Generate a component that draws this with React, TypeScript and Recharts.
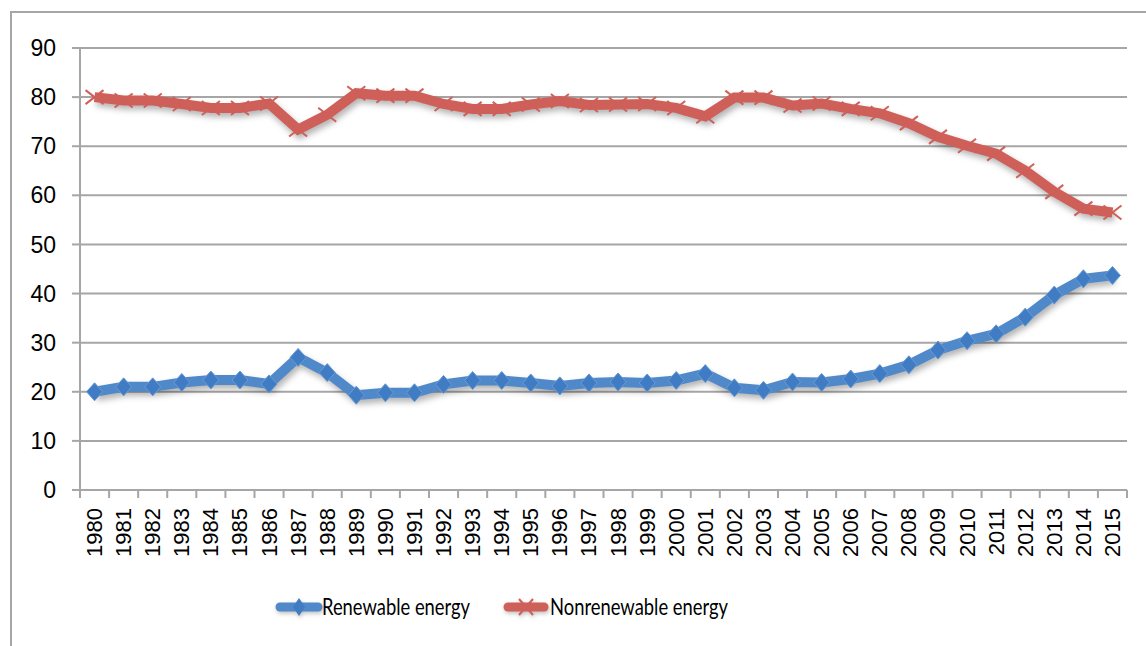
import React from "react"
import { LineChart, Line, XAxis, YAxis, CartesianGrid } from "recharts"

const years = [
  "1980", "1981", "1982", "1983", "1984", "1985", "1986", "1987", "1988", "1989",
  "1990", "1991", "1992", "1993", "1994", "1995", "1996", "1997", "1998", "1999",
  "2000", "2001", "2002", "2003", "2004", "2005", "2006", "2007", "2008", "2009",
  "2010", "2011", "2012", "2013", "2014", "2015",
]

const renewable = [
  20.0, 21.0, 21.0, 21.9, 22.4, 22.4, 21.6, 27.0, 23.9, 19.3,
  19.8, 19.8, 21.5, 22.3, 22.3, 21.8, 21.2, 21.8, 22.0, 21.8,
  22.3, 23.7, 20.8, 20.3, 22.0, 21.9, 22.6, 23.7, 25.5, 28.5,
  30.4, 31.8, 35.2, 39.7, 43.0, 43.7,
]

const nonrenewable = [
  80.0, 79.3, 79.3, 78.6, 77.8, 77.8, 78.7, 73.4, 76.4, 80.8,
  80.3, 80.3, 78.6, 77.6, 77.6, 78.5, 79.2, 78.4, 78.5, 78.6,
  77.8, 76.1, 79.9, 79.9, 78.3, 78.7, 77.6, 76.7, 74.7, 71.9,
  70.1, 68.5, 65.0, 60.7, 57.3, 56.5,
]

const yTicks = [0, 10, 20, 30, 40, 50, 60, 70, 80, 90]

const data = years.map((year, i) => ({
  year,
  renewable: renewable[i],
  nonrenewable: nonrenewable[i],
}))

const BLUE = "#5089c9"
const BLUE_DARK = "#3f7cc3"
const RED = "#cf5f59"
const GRID = "#a6a6a6"
const BAND = (1127 - 80) / years.length
const TICK_FONT = "Liberation Sans, Arial, sans-serif"
const LEGEND_FONT = "Lato, 'Open Sans', sans-serif"

const Diamond = (props: any) => {
  const { cx, cy } = props
  if (cx == null || cy == null) return null
  return (
    <polygon
      points={`${cx},${cy - 9} ${cx + 8},${cy} ${cx},${cy + 9} ${cx - 8},${cy}`}
      fill={BLUE_DARK}
      stroke="#6a9ad4"
      strokeWidth={1}
    />
  )
}

const Cross = (props: any) => {
  const { cx, cy } = props
  if (cx == null || cy == null) return null
  return (
    <g stroke={RED} strokeWidth={2}>
      <line x1={cx - 9} y1={cy - 7} x2={cx + 9} y2={cy + 7} />
      <line x1={cx - 9} y1={cy + 7} x2={cx + 9} y2={cy - 7} />
    </g>
  )
}

const YearTick = (props: any) => {
  const { x, y, payload, index } = props
  const last = index === years.length - 1
  return (
    <g>
      <line x1={x - BAND / 2} y1={y - 8} x2={x - BAND / 2} y2={y} stroke={GRID} strokeWidth={2} />
      {last && (
        <line x1={x + BAND / 2} y1={y - 8} x2={x + BAND / 2} y2={y} stroke={GRID} strokeWidth={2} />
      )}
      <text
        x={x}
        y={y + 10}
        transform={`rotate(-90, ${x}, ${y + 10})`}
        textAnchor="end"
        dominantBaseline="central"
        fontFamily={TICK_FONT}
        fontSize={22}
        fill="#000"
      >
        {payload.value}
      </text>
    </g>
  )
}

const Legend = () => (
  <svg width={1146} height={40} style={{ position: "absolute", left: 0, top: 587 }}>
    <g filter="drop-shadow(1px 2px 2px rgba(0,0,0,0.25))">
      <line x1={280} y1={20} x2={318} y2={20} stroke={BLUE} strokeWidth={9} strokeLinecap="round" />
      <polygon points="299,11 305,20 299,29 293,20" fill={BLUE_DARK} />
      <line x1={508} y1={20} x2={544} y2={20} stroke={RED} strokeWidth={9} strokeLinecap="round" />
      <line x1={519} y1={12} x2={533} y2={28} stroke={RED} strokeWidth={2} />
      <line x1={519} y1={28} x2={533} y2={12} stroke={RED} strokeWidth={2} />
    </g>
    <text
      x={322}
      y={28}
      fontFamily={LEGEND_FONT}
      fontSize={23}
      textLength={148}
      lengthAdjust="spacingAndGlyphs"
      fill="#000"
    >
      Renewable energy
    </text>
    <text
      x={550}
      y={28}
      fontFamily={LEGEND_FONT}
      fontSize={23}
      textLength={178}
      lengthAdjust="spacingAndGlyphs"
      fill="#000"
    >
      Nonrenewable energy
    </text>
  </svg>
)

export default function App() {
  return (
    <div style={{ position: "absolute", left: 0, top: 0, width: 1146, height: 646, background: "#fff" }}>
      <style>{`.recharts-line { filter: drop-shadow(2px 4px 3px rgba(0,0,0,0.3)); }`}</style>
      <div
        style={{
          position: "absolute",
          left: 10,
          top: 11,
          width: 1136,
          height: 635,
          borderLeft: "2px solid #a6a6a6",
          borderTop: "2px solid #a6a6a6",
          boxSizing: "border-box",
        }}
      />
      <LineChart
        width={1146}
        height={646}
        data={data}
        margin={{ top: 48, right: 19, bottom: 86, left: 0 }}
        style={{ position: "absolute", left: 0, top: 0 }}
      >
        <CartesianGrid vertical={false} stroke={GRID} strokeWidth={2} />
        <XAxis
          dataKey="year"
          interval={0}
          height={70}
          padding={{ left: BAND / 2, right: BAND / 2 }}
          stroke={GRID}
          strokeWidth={2}
          tickLine={false}
          tick={<YearTick />}
        />
        <YAxis
          domain={[0, 90]}
          ticks={yTicks}
          width={80}
          stroke={GRID}
          strokeWidth={2}
          tickSize={8}
          tickMargin={16}
          tick={{ fill: "#000", fontSize: 23, fontFamily: TICK_FONT }}
        />
        <Line
          dataKey="renewable"
          stroke={BLUE}
          strokeWidth={10}
          dot={<Diamond />}
          activeDot={false}
          isAnimationActive={false}
        />
        <Line
          dataKey="nonrenewable"
          stroke={RED}
          strokeWidth={10}
          dot={<Cross />}
          activeDot={false}
          isAnimationActive={false}
        />
      </LineChart>
      <Legend />
    </div>
  )
}
